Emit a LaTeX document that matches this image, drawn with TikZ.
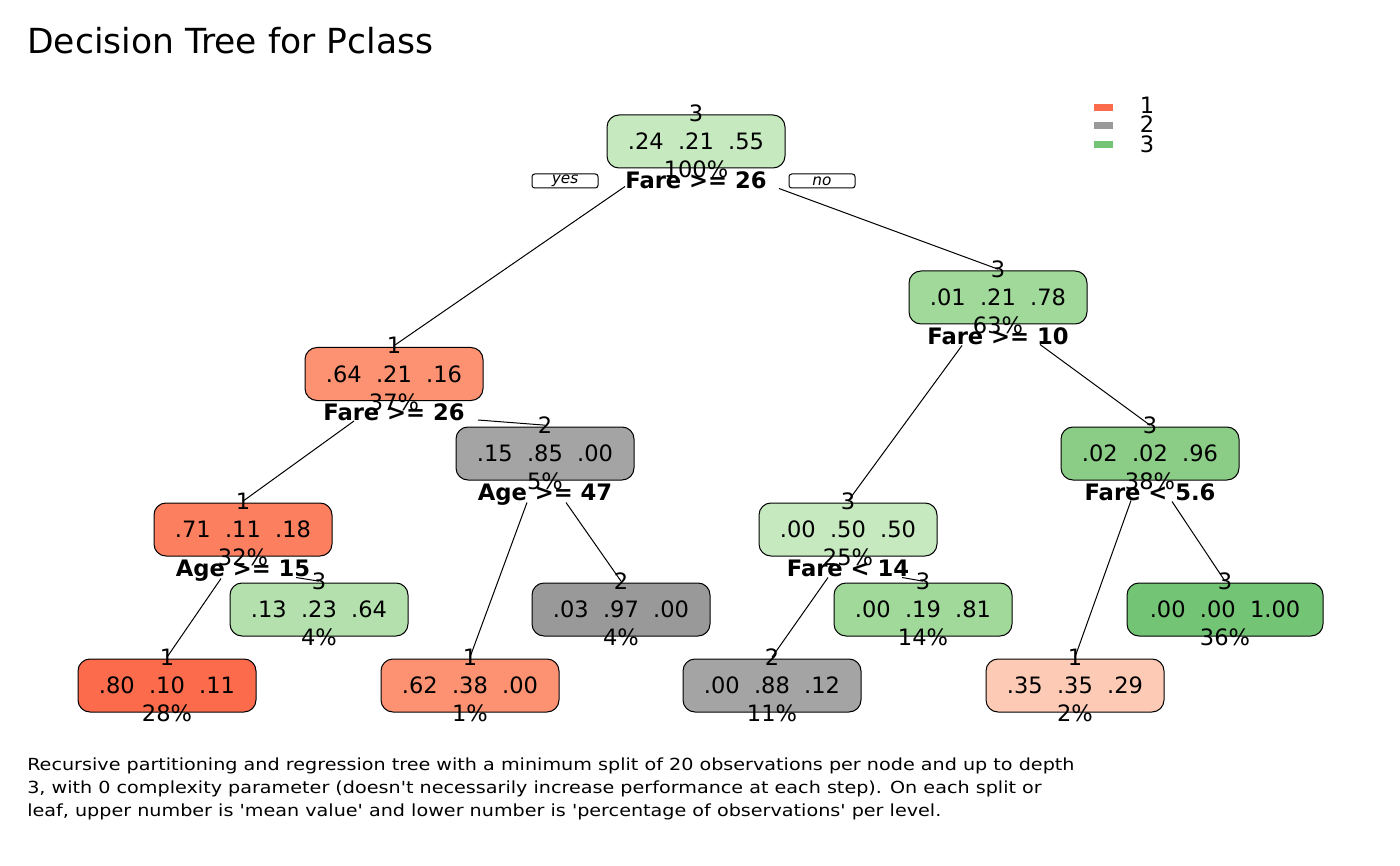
\documentclass[tikz,border=0pt]{standalone}
\usepackage{fontspec}
\setmainfont{DejaVu Sans}
\newfontfamily\capfont[FakeStretch=1.15]{DejaVu Sans}
\usepackage{xcolor}
\usepackage{tikz}
\usetikzlibrary{positioning}
% node fills
\definecolor{redleaf}{HTML}{FC6B4C}
\definecolor{redmid}{HTML}{FC8060}
\definecolor{redlight}{HTML}{FC9272}
\definecolor{redpale}{HTML}{FDCAB5}
\definecolor{greypure}{HTML}{999999}
\definecolor{greymid}{HTML}{A4A4A4}
\definecolor{greenpale}{HTML}{C7E9C0}
\definecolor{greenlight}{HTML}{B3E0AD}
\definecolor{greenmid}{HTML}{A1D99B}
\definecolor{greendeep}{HTML}{8BCC86}
\definecolor{greenleaf}{HTML}{74C476}
\tikzset{>=stealth}
\tikzset{
  box/.style={draw, line width=0.75pt, rounded corners=9pt, minimum width=133.5pt,
    minimum height=39.75pt, inner sep=0pt, font=\fontsize{16.9}{20}\selectfont},
  cls/.style={anchor=base, inner sep=0pt, font=\fontsize{16.9}{20}\selectfont},
  pct/.style={anchor=base, inner sep=0pt, font=\fontsize{16.9}{20}\selectfont},
  splitlab/.style={anchor=base, inner sep=0pt, font=\bfseries\fontsize{17}{20}\selectfont},
  branch/.style={line width=0.75pt},
  yesno/.style={draw, line width=0.75pt, rounded corners=2pt, minimum width=49.5pt,
    minimum height=10.5pt, inner sep=0pt, font=\itshape\fontsize{11.5}{12}\selectfont},
  keybar/.style={minimum width=14pt, minimum height=5.25pt, inner sep=0pt},
}

\begin{document}
\begin{tikzpicture}[x=0.75pt, y=-0.75pt]
        \useasboundingbox (0,0) rectangle (1400,866);
        % Title
        \node[anchor=base west, inner sep=0pt, font=\fontsize{25.9}{30}\selectfont] (title) at (27,54) {Decision Tree for Pclass};

        % Legend
        \node[keybar, fill=redleaf] (key1) at (1103.5,107.5) {};
        \node[keybar, fill=greypure] (key2) at (1103.5,125.5) {};
        \node[keybar, fill=greenleaf] (key3) at (1103.5,144.5) {};
        \node[cls] (leg1) at (1147,114) {1};
        \node[cls] (leg2) at (1147,133) {2};
        \node[cls] (leg3) at (1147,152.5) {3};

        % Root
        \node[box, fill=greenpale] (n1) at (696,141.5) {.24\ \ .21\ \ .55};
        \node[cls] (n1c) at ([yshift=-5pt]n1.north) {3};
        \node[pct] (n1p) at ([yshift=-6.75pt]n1.south) {100\%};
        \node[splitlab] (n1s) at ([yshift=-15pt]n1.south) {Fare >= 26};
        \node[yesno] (yes) at (565,181) {yes};
        \node[yesno] (no) at (822,181) {no};

        % Second level
        \node[box, fill=redlight] (n2) at (394,374) {.64\ \ .21\ \ .16};
        \node[cls] (n2c) at ([yshift=-5pt]n2.north) {1};
        \node[pct] (n2p) at ([yshift=-6.75pt]n2.south) {37\%};
        \node[splitlab] (n2s) at ([yshift=-15pt]n2.south) {Fare >= 26};

        \node[box, fill=greenmid] (n3) at (998,297.5) {.01\ \ .21\ \ .78};
        \node[cls] (n3c) at ([yshift=-5pt]n3.north) {3};
        \node[pct] (n3p) at ([yshift=-6.75pt]n3.south) {63\%};
        \node[splitlab] (n3s) at ([yshift=-15pt]n3.south) {Fare >= 10};

        % Third level
        \node[box, fill=redmid] (n4) at (243,529.5) {.71\ \ .11\ \ .18};
        \node[cls] (n4c) at ([yshift=-5pt]n4.north) {1};
        \node[pct] (n4p) at ([yshift=-6.75pt]n4.south) {32\%};
        \node[splitlab] (n4s) at ([yshift=-15pt]n4.south) {Age >= 15};

        \node[box, fill=greymid] (n5) at (545,453.5) {.15\ \ .85\ \ .00};
        \node[cls] (n5c) at ([yshift=-5pt]n5.north) {2};
        \node[pct] (n5p) at ([yshift=-6.75pt]n5.south) {5\%};
        \node[splitlab] (n5s) at ([yshift=-15pt]n5.south) {Age >= 47};

        \node[box, fill=greenpale] (n6) at (848,529.5) {.00\ \ .50\ \ .50};
        \node[cls] (n6c) at ([yshift=-5pt]n6.north) {3};
        \node[pct] (n6p) at ([yshift=-6.75pt]n6.south) {25\%};
        \node[splitlab] (n6s) at ([yshift=-15pt]n6.south) {Fare < 14};

        \node[box, fill=greendeep] (n7) at (1150,453.5) {.02\ \ .02\ \ .96};
        \node[cls] (n7c) at ([yshift=-5pt]n7.north) {3};
        \node[pct] (n7p) at ([yshift=-6.75pt]n7.south) {38\%};
        \node[splitlab] (n7s) at ([yshift=-15pt]n7.south) {Fare < 5.6};

        % Leaves
        \node[box, fill=redleaf] (n8) at (167,685.5) {.80\ \ .10\ \ .11};
        \node[cls] (n8c) at ([yshift=-5pt]n8.north) {1};
        \node[pct] (n8p) at ([yshift=-6.75pt]n8.south) {28\%};

        \node[box, fill=greenlight] (n9) at (319,609.5) {.13\ \ .23\ \ .64};
        \node[cls] (n9c) at ([yshift=-5pt]n9.north) {3};
        \node[pct] (n9p) at ([yshift=-6.75pt]n9.south) {4\%};

        \node[box, fill=redlight] (n10) at (470,685.5) {.62\ \ .38\ \ .00};
        \node[cls] (n10c) at ([yshift=-5pt]n10.north) {1};
        \node[pct] (n10p) at ([yshift=-6.75pt]n10.south) {1\%};

        \node[box, fill=greypure] (n11) at (621,609.5) {.03\ \ .97\ \ .00};
        \node[cls] (n11c) at ([yshift=-5pt]n11.north) {2};
        \node[pct] (n11p) at ([yshift=-6.75pt]n11.south) {4\%};

        \node[box, fill=greymid] (n12) at (772,685.5) {.00\ \ .88\ \ .12};
        \node[cls] (n12c) at ([yshift=-5pt]n12.north) {2};
        \node[pct] (n12p) at ([yshift=-6.75pt]n12.south) {11\%};

        \node[box, fill=greenmid] (n13) at (923,609.5) {.00\ \ .19\ \ .81};
        \node[cls] (n13c) at ([yshift=-5pt]n13.north) {3};
        \node[pct] (n13p) at ([yshift=-6.75pt]n13.south) {14\%};

        \node[box, fill=redpale] (n14) at (1075,685.5) {.35\ \ .35\ \ .29};
        \node[cls] (n14c) at ([yshift=-5pt]n14.north) {1};
        \node[pct] (n14p) at ([yshift=-6.75pt]n14.south) {2\%};

        \node[box, fill=greenleaf, minimum width=147pt] (n15) at (1225,609.5) {.00\ \ .00\ \ 1.00};
        \node[cls] (n15c) at ([yshift=-5pt]n15.north) {3};
        \node[pct] (n15p) at ([yshift=-6.75pt]n15.south) {36\%};

        % Branches
        \draw[branch] ([shift={(-71,-2)}]n1s.base) -- ([shift={(0,-8)}]n2c.base);
        \draw[branch] ([shift={(83,0)}]n1s.base) -- ([shift={(0,-8)}]n3c.base);
        \draw[branch] ([shift={(-40,0)}]n2s.base) -- ([shift={(0,-8)}]n4c.base);
        \draw[branch] ([shift={(84,-1)}]n2s.base) -- ([shift={(0,-8)}]n5c.base);
        \draw[branch] ([shift={(-36,1)}]n3s.base) -- ([shift={(0,-8)}]n6c.base);
        \draw[branch] ([shift={(42,0)}]n3s.base) -- ([shift={(0,-8)}]n7c.base);
        \draw[branch] ([shift={(-22,2)}]n4s.base) -- ([shift={(0,-8)}]n8c.base);
        \draw[branch] ([shift={(53,1)}]n4s.base) -- ([shift={(0,-8)}]n9c.base);
        \draw[branch] ([shift={(-18,2)}]n5s.base) -- ([shift={(0,-8)}]n10c.base);
        \draw[branch] ([shift={(21,2)}]n5s.base) -- ([shift={(0,-8)}]n11c.base);
        \draw[branch] ([shift={(-20,1)}]n6s.base) -- ([shift={(0,-8)}]n12c.base);
        \draw[branch] ([shift={(54,1)}]n6s.base) -- ([shift={(0,-8)}]n13c.base);
        \draw[branch] ([shift={(-19,0)}]n7s.base) -- ([shift={(0,-8)}]n14c.base);
        \draw[branch] ([shift={(22,1)}]n7s.base) -- ([shift={(0,-8)}]n15c.base);

        % Caption
        \node[anchor=base west, inner sep=0pt, align=left, font=\capfont\fontsize{12.5}{17.25}\selectfont] (caption) at (27,816)
          {Recursive partitioning and regression tree with a minimum split of 20 observations per node and up to depth\\
           3, with 0 complexity parameter (doesn't necessarily increase performance at each step). On each split or\\
           leaf, upper number is 'mean value' and lower number is 'percentage of observations' per level.};
      \end{tikzpicture}
\end{document}
